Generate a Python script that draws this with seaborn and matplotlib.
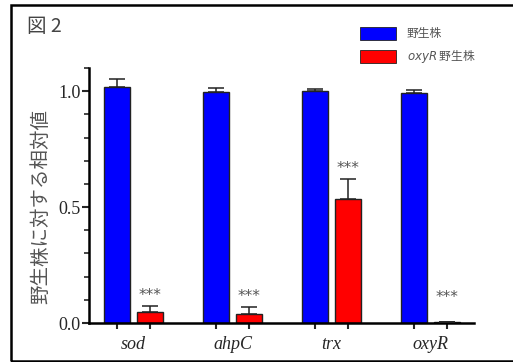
import matplotlib
matplotlib.use("Agg")
import matplotlib.pyplot as plt
import seaborn as sns
import pandas as pd
import numpy as np
from matplotlib.patches import Rectangle, Patch
from matplotlib.ticker import MultipleLocator, FixedLocator

# ---- data ----
genes = ["sod", "ahpC", "trx", "oxyR"]
groups = ["野生株", "oxyR 野生株"]
wt_mean = [1.017, 0.997, 1.000, 0.994]
wt_err = [0.035, 0.015, 0.009, 0.012]
mut_mean = [0.046, 0.039, 0.537, 0.003]
mut_err = [0.026, 0.030, 0.084, 0.003]
stars = ["***", "***", "***", "***"]
yticks = [0.0, 0.5, 1.0]
ytick_labels = ["0.0", "0.5", "1.0"]

sns.set_style("white")
SERIF = ['Liberation Serif', 'DejaVu Serif']
CJK = ['Noto Sans CJK JP', 'DejaVu Sans']
plt.rcParams['font.family'] = SERIF + ['Noto Sans CJK JP']
plt.rcParams['mathtext.fontset'] = 'dejavusans'

df = pd.DataFrame({
    "gene": genes * 2,
    "group": [groups[0]] * 4 + [groups[1]] * 4,
    "value": wt_mean + mut_mean,
})
errs = wt_err + mut_err

fig = plt.figure(figsize=(5.13, 3.62), dpi=100)
ax = fig.add_axes([0.1735, 0.1077, 0.924 - 0.1735, 0.8122 - 0.1077])

sns.barplot(data=df, x="gene", y="value", hue="group", order=genes,
            hue_order=groups, palette=["#0000FF", "#FF0000"], saturation=1,
            width=0.657, gap=0.2, dodge=True, errorbar=None,
            edgecolor="#222222", linewidth=1.0, legend=False, ax=ax)

patches = [p for p in ax.patches if isinstance(p, Rectangle)]
centers = []
tops = []
for p, e in zip(patches, errs):
    cx = p.get_x() + p.get_width() / 2
    h = p.get_height()
    centers.append(cx)
    tops.append(h + e)
    ax.errorbar(cx, h, yerr=[[0], [e]], fmt="none", ecolor="#222222",
                elinewidth=1.1, capsize=5.8, capthick=1.1, zorder=3)

# significance stars over mutant bars
for i in range(4):
    j = 4 + i
    y = max(tops[j] + 0.013, 0.078)
    ax.text(centers[j], y, stars[i], ha="center", va="bottom",
            fontsize=11, color="#555555", family="DejaVu Sans")

ax.set_xlim(-0.45, 3.44)
ax.set_ylim(0, 1.1)
ax.set_yticks(yticks)
ax.set_yticklabels(ytick_labels, fontsize=13)
ax.yaxis.set_minor_locator(MultipleLocator(0.1))
ax.set_xticks(range(len(genes)))
ax.set_xticklabels(genes, style="italic", fontsize=13)
ax.xaxis.set_minor_locator(FixedLocator(centers))
ax.tick_params(axis="x", which="major", length=0, pad=9)
ax.tick_params(axis="x", which="minor", length=4, width=1.5, direction="out", bottom=True)
ax.tick_params(axis="y", which="major", length=5, width=1.5, direction="out", left=True, pad=1)
ax.tick_params(axis="y", which="minor", length=3.5, width=1.2, direction="out", left=True)
for t in ax.get_xticklabels() + ax.get_yticklabels():
    t.set_fontfamily(SERIF)

for s in ["top", "right"]:
    ax.spines[s].set_visible(False)
for s in ["left", "bottom"]:
    ax.spines[s].set_linewidth(1.8)
    ax.spines[s].set_color("black")

ax.set_xlabel("")
ax.set_ylabel("")
fig.text(41 / 513, 1 - 207 / 362, "野生株に対する相対値", rotation=90,
         ha="center", va="center", fontsize=14, color="#555555", family=CJK)

fig.text(27 / 513, 1 - 26 / 362, "図 2", ha="left", va="center",
         fontsize=14, color="#444444", family=CJK)

handles = [Patch(facecolor="#0000FF", edgecolor="#222222", linewidth=0.6),
           Patch(facecolor="#FF0000", edgecolor="#222222", linewidth=0.6)]
labels = ["野生株", "$\\mathit{oxyR}$ 野生株"]
leg = fig.legend(handles, labels, loc="upper left",
                 bbox_to_anchor=(355 / 513, 1 - 22 / 362), frameon=False,
                 prop={"family": CJK, "size": 8.5}, handlelength=3.1,
                 handleheight=1.3, labelspacing=0.7, handletextpad=0.9,
                 borderaxespad=0)
for t in leg.get_texts():
    t.set_color("#555555")

fig.patches.append(Rectangle((11 / 513, 1.5 / 362), 1.2, 1 - 6.5 / 362,
                             transform=fig.transFigure, fill=False,
                             edgecolor="black", linewidth=1.8))

fig.savefig("out.png", dpi=100)
